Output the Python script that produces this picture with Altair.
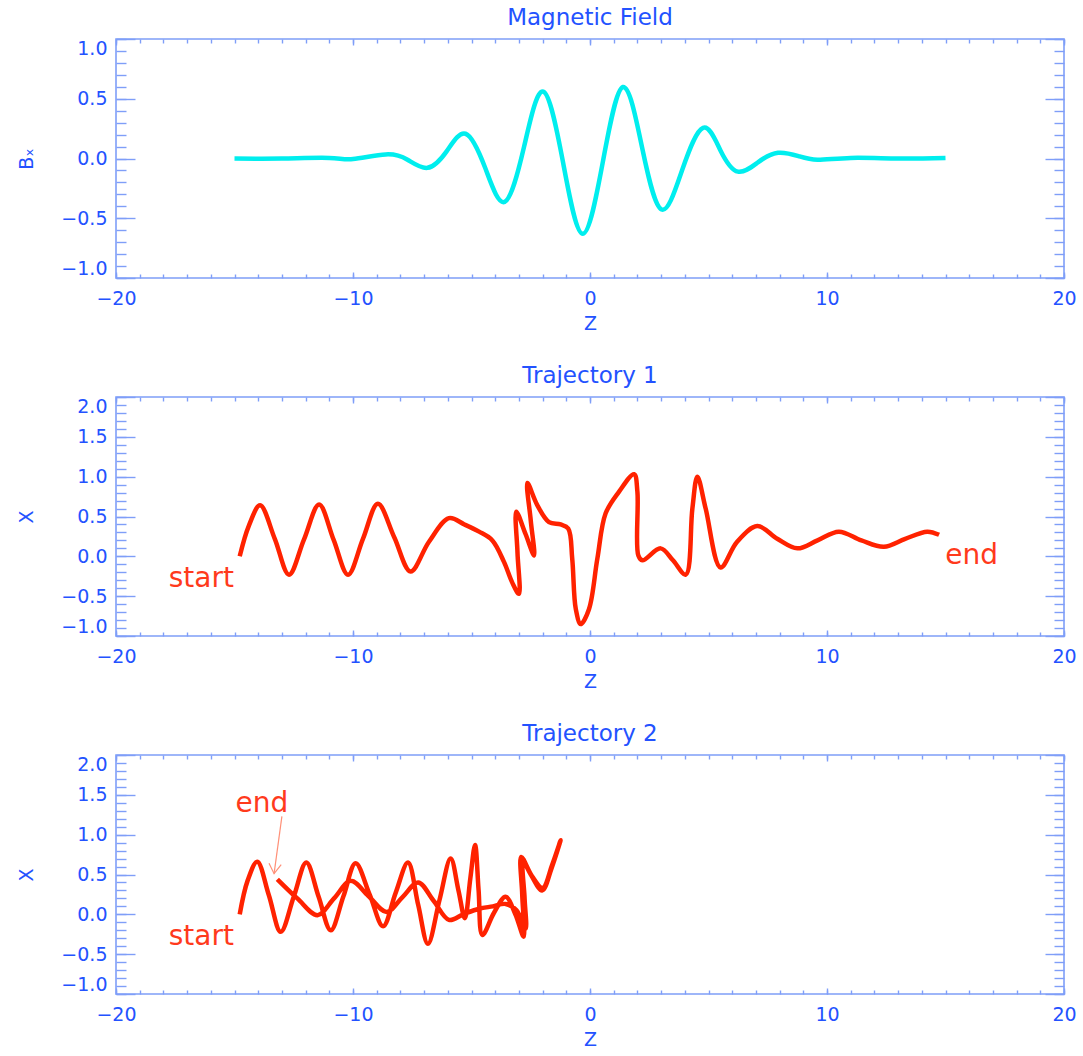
import altair as alt
import pandas as pd

# ---------------- data ----------------
# Panel 1: magnetic field B_x versus Z
b_z = [-15, -13, -11, -10, -8.62, -7.7, -6.86, -6.05, -5.25, -4.42, -3.6, -2.78, -1.97, -1.13,
       -0.3, 0.55, 1.39, 2.2, 3.02, 3.9, 4.77, 5.5, 6.24, 7.1, 7.93, 8.8, 9.6, 11, 13, 15]
b_x = [0.0, 0.0, 0.005, -0.005, 0.034, -0.01, -0.078, 0.06, 0.207, -0.08, -0.363, 0.1, 0.559, -0.04,
       -0.63, -0.02, 0.598, 0.09, -0.427, -0.09, 0.257, 0.07, -0.11, -0.03, 0.048, 0.02, -0.01, 0.005, 0.0, 0.005]

# Panel 2: trajectory 1 (z, x) in path order
t1_z = [-14.78, -14.4, -13.92, -13.3, -12.7, -12.07, -11.43, -10.82, -10.21, -9.58, -8.95, -8.26,
        -7.57, -6.8, -5.95, -5.3, -4.68, -4.12, -3.63, -3.28, -3.0, -3.06, -3.11, -2.72, -2.36,
        -2.5, -2.64, -2.22, -1.73, -1.24, -0.92, -0.75, -0.6, -0.39, -0.04, 0.31, 0.66, 1.22,
        1.86, 2.0, 2.04, 2.21, 2.98, 3.5, 4.04, 4.32, 4.53, 4.88, 5.51, 6.2, 7.06, 7.9, 8.75,
        9.6, 10.5, 11.45, 12.4, 13.3, 14.23, 14.73]
t1_x = [0.0, 0.38, 0.64, 0.22, -0.23, 0.21, 0.65, 0.21, -0.23, 0.22, 0.66, 0.24,
        -0.19, 0.18, 0.48, 0.40, 0.31, 0.2, -0.07, -0.33, -0.47, 0.05, 0.56, 0.28, 0.01,
        0.45, 0.92, 0.64, 0.43, 0.40, 0.35, -0.03, -0.66, -0.85, -0.66, -0.03, 0.54, 0.81,
        1.03, 0.81, 0.01, -0.05, 0.10, -0.05, -0.23, 0.60, 1.0, 0.60, -0.14, 0.18, 0.38, 0.22, 0.10,
        0.2, 0.31, 0.2, 0.12, 0.22, 0.31, 0.27]

# Panel 3: trajectory 2 (z, x) in path order (out and back)
t2_z = [-14.78, -14.45, -14.04, -13.55, -13.05, -12.5, -11.97, -11.45, -10.94, -10.4, -9.89, -9.3,
        -8.73, -8.2, -7.68, -7.25, -6.84, -6.35, -5.88, -5.55, -5.28, -5.05, -4.85, -4.7, -4.54,
        -4.05, -3.56, -3.15, -2.8, -2.86, -2.9, -2.45, -2.0, -1.6, -1.24,
        -1.62, -2.02, -2.5, -2.82, -2.76, -2.72, -3.1, -3.56, -4.1, -4.68, -5.35, -5.95, -6.6,
        -7.25, -7.9, -8.58, -9.35, -10.1, -10.8, -11.5, -12.35, -13.19]
t2_x = [0.0, 0.42, 0.66, 0.24, -0.22, 0.22, 0.65, 0.22, -0.20, 0.23, 0.64, 0.25,
        -0.15, 0.27, 0.65, 0.12, -0.37, 0.18, 0.70, 0.30, -0.05, 0.45, 0.87, 0.3, -0.26,
        0.02, 0.22, 0.0, -0.28, 0.25, 0.72, 0.48, 0.33, 0.62, 0.93,
        0.58, 0.30, 0.5, 0.66, 0.2, -0.18, 0.05, 0.13, 0.10, 0.07, 0.0, -0.07, 0.17,
        0.40, 0.22, 0.03, 0.23, 0.42, 0.2, -0.01, 0.2, 0.44]

# annotations
t1_lab = ["start", "end"]
t1_lab_z = [-16.4, 16.1]
t1_lab_x = [-0.28, 0.0]
t2_lab = ["start", "end"]
t2_lab_z = [-16.4, -13.84]
t2_lab_x = [-0.29, 1.39]
arrow_z = [-13.0]
arrow_x = [1.23]
arrow_z2 = [-13.33]
arrow_x2 = [0.51]

titles = ["Magnetic Field", "Trajectory 1", "Trajectory 2"]
z_major = [-20, -10, 0, 10, 20]
z_minor = list(range(-20, 21))
b_major = [-1.0, -0.5, 0.0, 0.5, 1.0]
b_minor = [round(-1.0 + 0.1 * i, 1) for i in range(21)]
x_major = [-1.0, -0.5, 0.0, 0.5, 1.0, 1.5, 2.0]
x_minor = [round(-1.0 + 0.1 * i, 1) for i in range(31)]

# ---------------- style ----------------
FONT = "DejaVu Sans"
BLUE = "#2352ff"
FRAME = "#7f9ef8"
CYAN = "#00eeee"
RED = "#ff2200"
ANNO = "#ff3a1c"
ARROW = "#ff9078"
W, H = 948, 239


def panel(z, v, color, interp, title, ytitle, ydom, ymaj, ymin, labels=None, arrow=None):
    df = pd.DataFrame({"z": z, "v": v, "i": list(range(len(z)))})
    xs = alt.Scale(domain=[-20, 20], nice=False, zero=False)
    ys = alt.Scale(domain=ydom, nice=False, zero=False)

    def enc(xaxis, yaxis):
        return dict(x=alt.X("z:Q", scale=xs, axis=xaxis),
                    y=alt.Y("v:Q", scale=ys, axis=yaxis),
                    order=alt.Order("i:Q"))

    ax_b = alt.Axis(orient="bottom", values=z_major, tickSize=6, offset=-6, domain=False, grid=False,
                    labelPadding=11, labelFlush=False, format="d", title="Z", titlePadding=6)
    ax_bm = alt.Axis(orient="bottom", values=z_minor, tickSize=4, offset=-4, domain=False, grid=False,
                     labels=False, title=None)
    ax_t = alt.Axis(orient="top", values=z_major, tickSize=6, offset=-6, domain=False, grid=False,
                    labels=False, title=None)
    ax_tm = alt.Axis(orient="top", values=z_minor, tickSize=4, offset=-4, domain=False, grid=False,
                     labels=False, title=None)
    ay_l = alt.Axis(orient="left", values=ymaj, tickSize=19, offset=-19, domain=False, grid=False,
                    labelPadding=9, labelFlush=True, format=".1f", title=ytitle, titlePadding=24)
    ay_lm = alt.Axis(orient="left", values=ymin, tickSize=10, offset=-10, domain=False, grid=False,
                     labels=False, title=None)
    ay_r = alt.Axis(orient="right", values=ymaj, tickSize=19, offset=-19, domain=False, grid=False,
                    labels=False, title=None)
    ay_rm = alt.Axis(orient="right", values=ymin, tickSize=10, offset=-10, domain=False, grid=False,
                     labels=False, title=None)

    base = alt.Chart(df)
    layers = [
        base.mark_line(color=color, strokeWidth=4.5, interpolate=interp).encode(**enc(ax_b, ay_l)),
        base.mark_line(strokeOpacity=0).encode(**enc(ax_bm, ay_lm)),
        base.mark_line(strokeOpacity=0).encode(**enc(ax_t, ay_r)),
        base.mark_line(strokeOpacity=0).encode(**enc(ax_tm, ay_rm)),
    ]
    if labels is not None:
        ldf = pd.DataFrame({"t": labels[0], "z": labels[1], "v": labels[2]})
        layers.append(
            alt.Chart(ldf).mark_text(font=FONT, fontSize=28, color=ANNO, align="center", baseline="middle")
            .encode(x=alt.X("z:Q", scale=xs, axis=None), y=alt.Y("v:Q", scale=ys, axis=None), text="t:N"))
    if arrow is not None:
        adf = pd.DataFrame({"z": arrow[0], "v": arrow[1], "z2": arrow[2], "v2": arrow[3]})
        layers.append(
            alt.Chart(adf).mark_rule(color=ARROW, strokeWidth=1.2)
            .encode(x=alt.X("z:Q", scale=xs, axis=None), y=alt.Y("v:Q", scale=ys, axis=None),
                    x2="z2:Q", y2="v2:Q"))
        layers.append(
            alt.Chart(adf).mark_point(shape="M-1,-1.6L0,0L1,-1.6", filled=False, size=150, angle=6,
                                      color=ARROW, strokeWidth=1.2, opacity=1)
            .encode(x=alt.X("z2:Q", scale=xs, axis=None), y=alt.Y("v2:Q", scale=ys, axis=None)))

    return (alt.layer(*layers)
            .resolve_axis(x="independent", y="independent")
            .properties(width=W, height=H, title=alt.TitleParams(title, offset=8)))


p1 = panel(b_z, b_x, CYAN, "natural", titles[0], "Bₓ", [-1, 1], b_major, b_minor)
p2 = panel(t1_z, t1_x, RED, "catmull-rom", titles[1], "X", [-1, 2], x_major, x_minor,
           labels=(t1_lab, t1_lab_z, t1_lab_x))
p3 = panel(t2_z, t2_x, RED, "catmull-rom", titles[2], "X", [-1, 2], x_major, x_minor,
           labels=(t2_lab, t2_lab_z, t2_lab_x), arrow=(arrow_z, arrow_x, arrow_z2, arrow_x2))

chart = (alt.vconcat(p1, p2, p3, spacing=30)
         .properties(padding={"left": 17, "top": 6, "right": 5, "bottom": 5}, background="white")
         .configure_view(stroke=FRAME, strokeWidth=1.6)
         .configure_axis(labelFont=FONT, titleFont=FONT, labelFontSize=19, titleFontSize=19,
                         labelColor=BLUE, titleColor=BLUE, tickColor=FRAME, tickWidth=1.4,
                         titleFontWeight="normal")
         .configure_title(font=FONT, fontSize=23, color=BLUE, fontWeight="normal", anchor="middle"))

chart.save("out.html", embed_options={"renderer": "svg", "actions": False})
